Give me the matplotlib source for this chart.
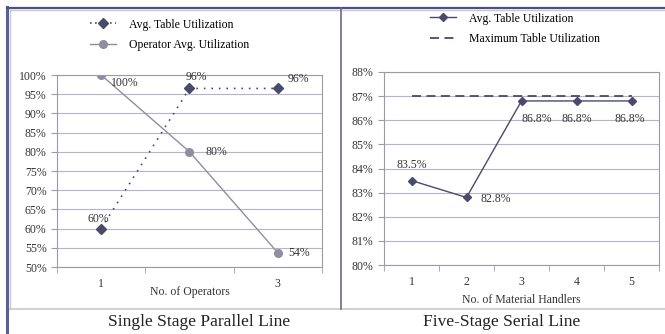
import matplotlib.pyplot as plt
from matplotlib.lines import Line2D

plt.rcParams['font.family'] = ['Liberation Serif', 'DejaVu Serif']

# left chart data
ops_cats = ['1', '', '3']
avg_table_left = [60, 96.5, 96.5]
avg_table_left_lbl = ['60%', '96%', '96%']
operator_util = [100, 80, 53.7]
operator_util_lbl = ['100%', '80%', '54%']

# right chart data
mh_cats = ['1', '2', '3', '4', '5']
avg_table_right = [83.5, 82.8, 86.8, 86.8, 86.8]
avg_table_right_lbl = ['83.5%', '82.8%', '86.8%', '86.8%', '86.8%']
max_table = [87, 87, 87, 87, 87]

dark = '#4a4a6a'
grey = '#8e8e9e'
grid = '#b4b4cc'
frame = '#9a9aae'
txt = '#333333'

fig = plt.figure(figsize=(6.65, 3.34), dpi=100)
fig.patch.set_facecolor('white')


def style(ax):
    for s in ax.spines.values():
        s.set_color(frame)
        s.set_linewidth(0.8)
    ax.grid(axis='y', color=grid, linewidth=0.8)
    ax.set_axisbelow(True)
    ax.tick_params(colors=txt, labelsize=8.5, length=4, color=frame)
    ax.tick_params(axis='x', length=0, pad=8)


# ---- left chart
ax1 = fig.add_axes([57 / 665, 67 / 334, 265 / 665, 192 / 334])
x1 = range(len(ops_cats))
ax1.plot(x1, avg_table_left, linestyle=(0, (1, 3.5)), color=dark, lw=1.2,
         marker='D', ms=5, mfc=dark, mec=dark)
ax1.plot(x1, operator_util, '-', color=grey, lw=1.0,
         marker='o', ms=5.5, mfc=grey, mec=grey)
ax1.set_xlim(-0.5, 2.5)
ax1.set_ylim(50, 100)
ax1.set_yticks(range(50, 101, 5))
ax1.set_yticklabels([f'{v}%' for v in range(50, 101, 5)])
ax1.set_xticks(list(x1))
ax1.set_xticklabels(ops_cats)
ax1.set_xticks([-0.5, 0.5, 1.5, 2.5], minor=True)
ax1.tick_params(axis='x', which='minor', length=4, color=frame)
style(ax1)
ax1.set_xlabel('No. of Operators', fontsize=8.5, color=txt, labelpad=-3)

off_t = [(-2, 7), (5, 8), (15, 7)]
for i, (v, t) in enumerate(zip(avg_table_left, avg_table_left_lbl)):
    ax1.annotate(t, (i, v), xytext=off_t[i], textcoords='offset points',
                 ha='center', va='center', fontsize=8.5, color=txt)
off_o = [(17, -6), (19, 0), (15, 0)]
for i, (v, t) in enumerate(zip(operator_util, operator_util_lbl)):
    ax1.annotate(t, (i, v), xytext=off_o[i], textcoords='offset points',
                 ha='center', va='center', fontsize=8.5, color=txt)

h1 = [Line2D([], [], linestyle=(0, (1, 2)), color=dark, lw=1.2, marker='D',
             ms=5, mfc=dark, mec=dark),
      Line2D([], [], linestyle='-', color=grey, lw=1.0, marker='o', ms=5.5,
             mfc=grey, mec=grey)]
fig.legend(h1, ['Avg. Table Utilization', 'Operator Avg. Utilization'],
           loc='center', bbox_to_anchor=(170 / 665, 1 - 35 / 334), frameon=False,
           fontsize=8.5, handlelength=2.2, labelspacing=0.75, handletextpad=1.1)

# ---- right chart
ax2 = fig.add_axes([384 / 665, 69 / 334, 275 / 665, 193 / 334])
x2 = range(len(mh_cats))
ax2.plot(x2, max_table, linestyle=(0, (5, 3)), color=dark, lw=1.3)
ax2.plot(x2, avg_table_right, '-', color=dark, lw=1.0,
         marker='D', ms=4.5, mfc=dark, mec=dark)
ax2.set_xlim(-0.5, 4.5)
ax2.set_ylim(80, 88)
ax2.set_yticks(range(80, 89))
ax2.set_yticklabels([f'{v}%' for v in range(80, 89)])
ax2.set_xticks(list(x2))
ax2.set_xticklabels(mh_cats)
ax2.set_xticks([k - 0.5 for k in range(6)], minor=True)
ax2.tick_params(axis='x', which='minor', length=4, color=frame)
style(ax2)
ax2.set_xlabel('No. of Material Handlers', fontsize=8.5, color=txt, labelpad=4)

off_r = [(0, 11), (21, -1), (11, -13), (0, -13), (-1, -13)]
for i, (v, t) in enumerate(zip(avg_table_right, avg_table_right_lbl)):
    ax2.annotate(t, (i, v), xytext=off_r[i], textcoords='offset points',
                 ha='center', va='center', fontsize=8.5, color=txt)

h2 = [Line2D([], [], linestyle='-', color=dark, lw=1.0, marker='D', ms=4.5,
             mfc=dark, mec=dark),
      Line2D([], [], linestyle=(0, (5, 3)), color=dark, lw=1.3)]
fig.legend(h2, ['Avg. Table Utilization', 'Maximum Table Utilization'],
           loc='center', bbox_to_anchor=(515 / 665, 1 - 29 / 334), frameon=False,
           fontsize=8.5, handlelength=2.2, labelspacing=0.75, handletextpad=1.1)

# ---- panel frames
fig.add_artist(Line2D([7 / 665, 7 / 665], [0, 1 - 7 / 334], color='#5a5f9a', lw=2.2))
fig.add_artist(Line2D([7 / 665, 1], [1 - 7.5 / 334, 1 - 7.5 / 334], color='#4a4f8a', lw=1.6))
fig.add_artist(Line2D([10 / 665, 10 / 665], [1 - 309 / 334, 1 - 9 / 334], color='#c8c8d2', lw=1.0))
fig.add_artist(Line2D([10 / 665, 1], [1 - 9.5 / 334, 1 - 9.5 / 334], color='#c8c8d2', lw=1.0))
fig.add_artist(Line2D([10 / 665, 1], [1 - 309 / 334, 1 - 309 / 334], color='#c8c8d2', lw=1.2))
fig.add_artist(Line2D([341 / 665, 341 / 665], [1 - 309 / 334, 1 - 8 / 334], color='#6a6a8a', lw=1.2))

fig.text(199 / 665, 1 - 322 / 334, 'Single Stage Parallel Line', ha='center', va='center',
         fontsize=12.5, color='#222222')
fig.text(502 / 665, 1 - 322 / 334, 'Five-Stage Serial Line', ha='center', va='center',
         fontsize=12.5, color='#222222')

fig.savefig('out.png', dpi=100)
